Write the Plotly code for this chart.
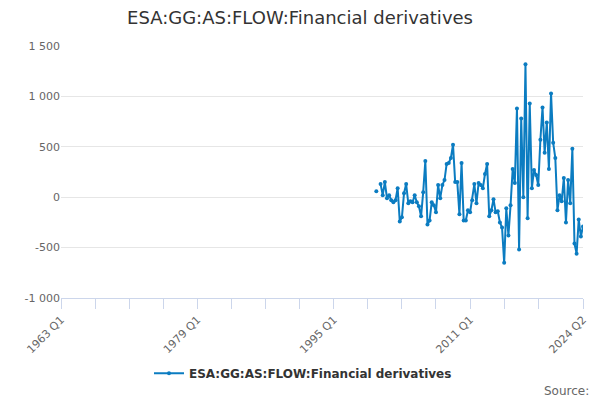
import plotly.graph_objects as go

# quarter labels 1963 Q1 .. 2024 Q2
quarters = [f"{1963 + i // 4} Q{i % 4 + 1}" for i in range(246)]

# values, 2000 Q1 onwards (None = missing quarter)
first_quarter = "2000 Q1"
values = [
    60, None, 130, 20, 150, -10, 20, -30, -50, -30,
    90, -240, -200, 40, 130, -60, -40, -50, 20, -50,
    -90, -190, 50, 360, -270, -230, -50, -80, -150, 120,
    -10, 120, 170, 330, 340, 390, 520, 150, 150, -170,
    340, -230, -230, -130, -150, -30, 130, -60, 140, 120,
    90, 230, 330, -190, -130, -20, -150, -140, -250, -300,
    -650, -110, -380, -80, 280, 140, 880, -520, 780, 0,
    1320, -210, 930, 90, 270, 220, 120, 570, 890, 440,
    740, 280, 1030, 540, 390, -130, 20, -40, 190, -250,
    170, -60, 480, -460, -560, -220, -390, -290,
]

y_ticks = [-1000, -500, 0, 500, 1000, 1500]
y_tick_labels = ["-1 000", "-500", "0", "500", "1 000", "1 500"]

x_label_quarters = ["1963 Q1", "1979 Q1", "1995 Q1", "2011 Q1", "2024 Q2"]

start = quarters.index(first_quarter)
x_data = quarters[start:start + len(values)]

# minor ticks every 16 quarters, plus the last quarter
tick_quarters = quarters[0:225:16] + [quarters[-1]]
tick_text = [q if q in x_label_quarters else "" for q in tick_quarters]

font = "DejaVu Sans, Verdana, sans-serif"
blue = "#0b7cc1"

fig = go.Figure()
fig.add_trace(go.Scatter(
    x=x_data,
    y=values,
    mode="lines+markers",
    name="ESA:GG:AS:FLOW:Financial derivatives",
    line=dict(color=blue, width=2),
    marker=dict(color=blue, size=4),
    connectgaps=False,
))

fig.update_layout(
    width=600,
    height=400,
    paper_bgcolor="white",
    plot_bgcolor="white",
    font=dict(family=font, color="#666666"),
    title=dict(
        text="ESA:GG:AS:FLOW:Financial derivatives",
        x=0.5, xanchor="center", y=0.955, yanchor="middle",
        font=dict(size=18, color="#333333", family=font),
    ),
    margin=dict(l=61, r=17, t=46, b=102),
    showlegend=True,
    legend=dict(
        orientation="h",
        xref="container", x=0.505, xanchor="center",
        yref="container", y=0.067, yanchor="middle",
        font=dict(size=12, color="#333333", family=font, weight="bold"),
    ),
    annotations=[dict(
        text="Source:",
        xref="paper", yref="paper",
        x=1.015, y=-0.37, xanchor="right", yanchor="middle",
        showarrow=False,
        font=dict(size=12, color="#666666", family=font),
    )],
)

fig.update_xaxes(
    type="category",
    categoryorder="array",
    categoryarray=quarters,
    range=[0, len(quarters) - 1],
    tickmode="array",
    tickvals=tick_quarters,
    ticktext=tick_text,
    tickangle=-45,
    ticks="outside",
    ticklen=10,
    tickcolor="#ccd6eb",
    showline=True,
    linecolor="#ccd6eb",
    linewidth=1,
    showgrid=False,
    automargin=False,
    tickfont=dict(size=11, color="#666666"),
)

fig.update_yaxes(
    range=[-1000, 1500],
    tickmode="array",
    tickvals=y_ticks,
    ticktext=y_tick_labels,
    showgrid=True,
    gridcolor="#e6e6e6",
    zeroline=False,
    showline=False,
    automargin=False,
    tickfont=dict(size=11, color="#666666"),
)

# drop the default page margin so the 600x400 figure sits at the top-left
fig.write_html("out.html", config={"displayModeBar": False},
               post_script="document.body.style.margin='0';")
